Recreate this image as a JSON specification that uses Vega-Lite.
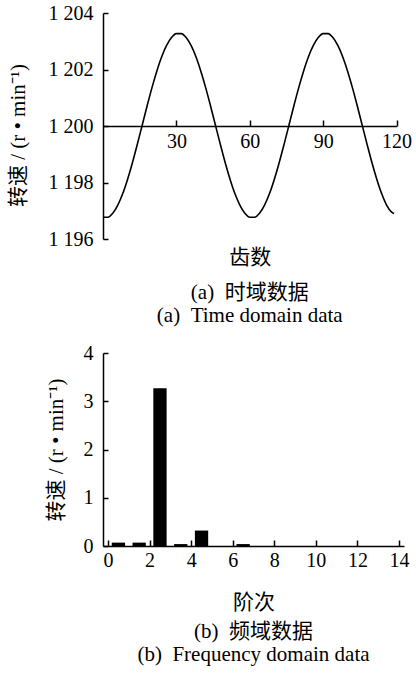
{
  "$schema": "https://vega.github.io/schema/vega-lite/v6.json",
  "background": "white",
  "padding": {"left": 7, "top": 3, "right": 5, "bottom": 5},
  "spacing": 114,
  "bounds": "flush",
  "config": {
    "view": {"stroke": null},
    "font": "Liberation Serif, Noto Sans CJK SC",
    "axis": {
      "grid": false,
      "domainColor": "black",
      "domainWidth": 1.5,
      "tickColor": "black",
      "tickWidth": 1.5,
      "labelColor": "black",
      "titleColor": "black",
      "labelFont": "Liberation Serif, Noto Sans CJK SC",
      "titleFont": "Liberation Serif, Noto Sans CJK SC",
      "labelFontSize": 20,
      "titleFontSize": 20,
      "titleFontWeight": "normal",
      "labelFlush": false,
      "labelOverlap": false
    },
    "title": {
      "font": "Liberation Serif, Noto Sans CJK SC",
      "fontSize": 21,
      "fontWeight": "normal",
      "color": "black",
      "anchor": "middle",
      "lineHeight": 23
    }
  },
  "vconcat": [
    {
      "width": 293.5,
      "height": 226,
      "title": {"text": ["(a) \u00a0时域数据", "(a) \u00a0Time domain data"], "orient": "bottom", "offset": 15},
      "data": {
        "values": [
          {"tooth": 0, "speed": 1196.77}, {"tooth": 2, "speed": 1196.77}, {"tooth": 4, "speed": 1196.91},
          {"tooth": 6, "speed": 1197.19}, {"tooth": 8, "speed": 1197.59}, {"tooth": 10, "speed": 1198.10},
          {"tooth": 12, "speed": 1198.69}, {"tooth": 14, "speed": 1199.34}, {"tooth": 16, "speed": 1200.02},
          {"tooth": 18, "speed": 1200.70}, {"tooth": 20, "speed": 1201.35}, {"tooth": 22, "speed": 1201.94},
          {"tooth": 24, "speed": 1202.45}, {"tooth": 26, "speed": 1202.85}, {"tooth": 28, "speed": 1203.13},
          {"tooth": 30, "speed": 1203.27}, {"tooth": 32, "speed": 1203.27}, {"tooth": 34, "speed": 1203.13},
          {"tooth": 36, "speed": 1202.85}, {"tooth": 38, "speed": 1202.45}, {"tooth": 40, "speed": 1201.94},
          {"tooth": 42, "speed": 1201.35}, {"tooth": 44, "speed": 1200.70}, {"tooth": 46, "speed": 1200.02},
          {"tooth": 48, "speed": 1199.34}, {"tooth": 50, "speed": 1198.69}, {"tooth": 52, "speed": 1198.10},
          {"tooth": 54, "speed": 1197.59}, {"tooth": 56, "speed": 1197.19}, {"tooth": 58, "speed": 1196.91},
          {"tooth": 60, "speed": 1196.77}, {"tooth": 62, "speed": 1196.77}, {"tooth": 64, "speed": 1196.91},
          {"tooth": 66, "speed": 1197.19}, {"tooth": 68, "speed": 1197.59}, {"tooth": 70, "speed": 1198.10},
          {"tooth": 72, "speed": 1198.69}, {"tooth": 74, "speed": 1199.34}, {"tooth": 76, "speed": 1200.02},
          {"tooth": 78, "speed": 1200.70}, {"tooth": 80, "speed": 1201.35}, {"tooth": 82, "speed": 1201.94},
          {"tooth": 84, "speed": 1202.45}, {"tooth": 86, "speed": 1202.85}, {"tooth": 88, "speed": 1203.13},
          {"tooth": 90, "speed": 1203.27}, {"tooth": 92, "speed": 1203.27}, {"tooth": 94, "speed": 1203.13},
          {"tooth": 96, "speed": 1202.85}, {"tooth": 98, "speed": 1202.45}, {"tooth": 100, "speed": 1201.94},
          {"tooth": 102, "speed": 1201.35}, {"tooth": 104, "speed": 1200.70}, {"tooth": 106, "speed": 1200.02},
          {"tooth": 108, "speed": 1199.34}, {"tooth": 110, "speed": 1198.69}, {"tooth": 112, "speed": 1198.10},
          {"tooth": 114, "speed": 1197.59}, {"tooth": 116, "speed": 1197.19}, {"tooth": 118, "speed": 1196.95},
          {"tooth": 119, "speed": 1196.90}
        ]
      },
      "mark": {"type": "line", "color": "black", "strokeWidth": 1.6, "interpolate": "monotone"},
      "encoding": {
        "x": {
          "field": "tooth", "type": "quantitative",
          "scale": {"domain": [0, 120], "nice": false, "zero": false},
          "axis": {"values": [30, 60, 90, 120], "offset": -113, "tickSize": -6, "labelPadding": 11,
                   "title": "齿数", "titleY": 131, "titleBaseline": "middle", "titleFontSize": 21}
        },
        "y": {
          "field": "speed", "type": "quantitative",
          "scale": {"domain": [1196, 1204], "nice": false, "zero": false},
          "axis": {"values": [1196, 1198, 1200, 1202, 1204], "tickSize": -5, "labelPadding": 15,
                   "labelExpr": "replace(format(datum.value, ','), ',', ' ')",
                   "title": "转速 / (r • min⁻¹)", "titlePadding": 19.5, "titleFontSize": 21, "titleY": 122}
        }
      }
    },
    {
      "width": 301,
      "height": 193,
      "title": {"text": ["(b) \u00a0频域数据", "(b) \u00a0Frequency domain data"], "orient": "bottom", "offset": 9},
      "data": {
        "values": [
          {"order": 0.5, "amp": 0.07},
          {"order": 1.5, "amp": 0.07},
          {"order": 2.5, "amp": 3.27},
          {"order": 3.5, "amp": 0.04},
          {"order": 4.5, "amp": 0.32},
          {"order": 6.5, "amp": 0.04}
        ]
      },
      "mark": {"type": "bar", "color": "black", "width": 13.3},
      "encoding": {
        "x": {
          "field": "order", "type": "quantitative",
          "scale": {"domain": [0, 14], "nice": false, "zero": false},
          "axis": {"values": [0, 2, 4, 6, 8, 10, 12, 14], "tickSize": -6, "labelPadding": 10,
                   "title": "阶次", "titlePadding": 21, "titleFontSize": 21}
        },
        "y": {
          "field": "amp", "type": "quantitative",
          "scale": {"domain": [0, 4], "nice": false},
          "axis": {"values": [0, 1, 2, 3, 4], "tickSize": -5, "labelPadding": 15,
                   "title": "转速 / (r • min⁻¹)", "titlePadding": 17, "titleFontSize": 21}
        }
      }
    }
  ]
}
